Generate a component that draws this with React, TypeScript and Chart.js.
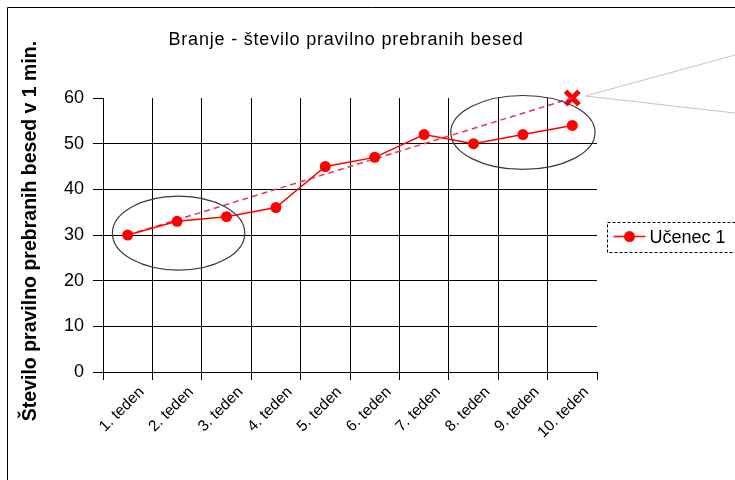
import React, { useEffect, useRef } from "react";
import { Chart, registerables } from "chart.js";

Chart.register(...registerables);

const categories = ["1. teden", "2. teden", "3. teden", "4. teden", "5. teden", "6. teden", "7. teden", "8. teden", "9. teden", "10. teden"];
const seriesName = "Učenec 1";
const seriesValues = [30, 33, 34, 36, 45, 47, 52, 50, 52, 54];
const trendValues = [30, null, null, null, null, null, null, null, null, 60];
const targetValues = [null, null, null, null, null, null, null, null, null, 60];
const titleText = "Branje - število pravilno prebranih besed";
const yTitle = "Število pravilno prebranih besed v 1 min.";
const yMin = 0;
const yMax = 60;
const yStep = 10;
// ellipse annotations: [category index centre, value centre, radius in categories, radius in values]
const ellipseLeft = [1.03, 30.4, 1.34, 8.1];
const ellipseRight = [8.0, 52.45, 1.46, 8.1];

const FONT = "'Liberation Sans', Arial, sans-serif";

const decorPlugin = {
  id: "decor",
  beforeDraw(chart: any) {
    const ctx = chart.ctx;
    ctx.save();
    ctx.fillStyle = "#fff";
    ctx.fillRect(0, 0, chart.width, chart.height);
    // outer chart border (left & top visible)
    ctx.strokeStyle = "#000";
    ctx.lineWidth = 1;
    ctx.beginPath();
    ctx.moveTo(7.5, chart.height + 5);
    ctx.lineTo(7.5, 7.5);
    ctx.lineTo(chart.width + 5, 7.5);
    ctx.stroke();
    ctx.restore();
  },
  afterDraw(chart: any) {
    const ctx = chart.ctx;
    const area = chart.chartArea;
    const xs = chart.scales.x;
    const ys = chart.scales.y;
    ctx.save();
    // title
    ctx.fillStyle = "#000";
    ctx.font = `18px ${FONT}`;
    (ctx as any).letterSpacing = "0.8px";
    ctx.textAlign = "center";
    ctx.textBaseline = "alphabetic";
    ctx.fillText(titleText, (area.left + area.right) / 2 - 4, 45);
    (ctx as any).letterSpacing = "0px";
    // y-axis title
    ctx.save();
    ctx.translate(31, (area.top + area.bottom) / 2 - 4);
    ctx.rotate(-Math.PI / 2);
    ctx.font = `bold 19.5px ${FONT}`;
    ctx.textAlign = "center";
    ctx.textBaseline = "middle";
    ctx.fillText(yTitle, 0, 0);
    ctx.restore();

    // ellipses
    const catW = xs.getPixelForValue(1) - xs.getPixelForValue(0);
    const unitH = ys.getPixelForValue(0) - ys.getPixelForValue(1);
    ctx.strokeStyle = "#3a3a3a";
    ctx.lineWidth = 1.2;
    for (const e of [ellipseLeft, ellipseRight]) {
      const cx = xs.getPixelForValue(0) + e[0] * catW;
      const cy = ys.getPixelForValue(e[1]);
      ctx.beginPath();
      ctx.ellipse(cx, cy, e[2] * catW, e[3] * unitH, 0, 0, Math.PI * 2);
      ctx.stroke();
    }

    // callout lines from target marker
    const tx = xs.getPixelForValue(9) + 13;
    const ty = ys.getPixelForValue(60) - 2;
    ctx.strokeStyle = "#c4c4c4";
    ctx.lineWidth = 1;
    ctx.beginPath();
    ctx.moveTo(tx, ty);
    ctx.lineTo(chart.width, ty - 41);
    ctx.moveTo(tx, ty);
    ctx.lineTo(chart.width, ty + 17);
    ctx.stroke();

    // legend
    const lx = Math.round(area.right + 10) + 0.5;
    const lcy = (area.top + area.bottom) / 2 + 1.6;
    ctx.strokeStyle = "#000";
    ctx.lineWidth = 1;
    ctx.setLineDash([3, 2]);
    ctx.strokeRect(lx, Math.round(lcy - 15) + 0.5, 200, 30);
    ctx.setLineDash([]);
    ctx.strokeStyle = "#ff0000";
    ctx.lineWidth = 1.5;
    ctx.beginPath();
    ctx.moveTo(lx + 6, lcy);
    ctx.lineTo(lx + 38, lcy);
    ctx.stroke();
    ctx.fillStyle = "#ff0000";
    ctx.beginPath();
    ctx.arc(lx + 22, lcy, 5.5, 0, Math.PI * 2);
    ctx.fill();
    ctx.fillStyle = "#000";
    ctx.font = `18px ${FONT}`;
    ctx.textAlign = "left";
    ctx.textBaseline = "middle";
    ctx.fillText(seriesName, lx + 42, lcy + 1);
    ctx.restore();
  },
};

export default function App() {
  const ref = useRef<HTMLCanvasElement | null>(null);
  useEffect(() => {
    if (!ref.current) return;
    const chart = new Chart(ref.current, {
      type: "line",
      data: {
        labels: categories,
        datasets: [
          {
            label: seriesName,
            data: seriesValues,
            borderColor: "#ff0000",
            backgroundColor: "#ff0000",
            borderWidth: 1.5,
            pointRadius: 5.5,
            pointBorderWidth: 0,
            pointBackgroundColor: "#ff0000",
            tension: 0,
            clip: false as any,
          },
          {
            label: "trend",
            data: trendValues as any,
            borderColor: "#e8354f",
            borderWidth: 1.5,
            borderDash: [6, 4],
            pointRadius: 0,
            spanGaps: true,
            tension: 0,
            clip: false as any,
          },
          {
            label: "cilj",
            data: targetValues as any,
            showLine: false,
            pointStyle: "crossRot",
            pointRadius: 9.5,
            pointBorderWidth: 5,
            pointBorderColor: "#ff0000",
            borderColor: "#ff0000",
            clip: false as any,
          },
        ],
      },
      options: {
        animation: false,
        responsive: false,
        layout: { padding: { left: 0, top: 98, right: 138, bottom: 0 } },
        plugins: { legend: { display: false }, title: { display: false }, tooltip: { enabled: false } },
        scales: {
          x: {
            type: "category",
            offset: true,
            grid: {
              offset: true,
              color: (c: any) => (c.type === "tick" ? "#000" : "rgba(0,0,0,0)"),
              tickColor: "#000",
              tickLength: 8,
              lineWidth: 1,
            },
            border: { display: true, color: "#000", width: 1 },
            ticks: {
              autoSkip: false,
              maxRotation: 45,
              minRotation: 45,
              color: "#000",
              padding: 3,
              labelOffset: 14,
              font: { family: FONT, size: 15.5 },
            },
            afterFit: (s: any) => {
              s.height = 108;
            },
          },
          y: {
            min: yMin,
            max: yMax,
            ticks: {
              stepSize: yStep,
              color: "#000",
              padding: 9,
              font: { family: FONT, size: 18 },
            },
            grid: {
              color: (c: any) => (c.tick && c.tick.value === yMax ? "rgba(0,0,0,0)" : "#000"),
              tickColor: "#000",
              tickLength: 10,
              lineWidth: 1,
            },
            border: { display: true, color: "#000", width: 1 },
            afterFit: (s: any) => {
              s.width = 103;
            },
          },
        },
      },
      plugins: [decorPlugin],
    });
    return () => chart.destroy();
  }, []);
  return (
    <>
      <style>{`body{margin:0;overflow:hidden;background:#fff}`}</style>
      <canvas ref={ref} width={735} height={480} style={{ display: "block", width: 735, height: 480 }} />
    </>
  );
}
